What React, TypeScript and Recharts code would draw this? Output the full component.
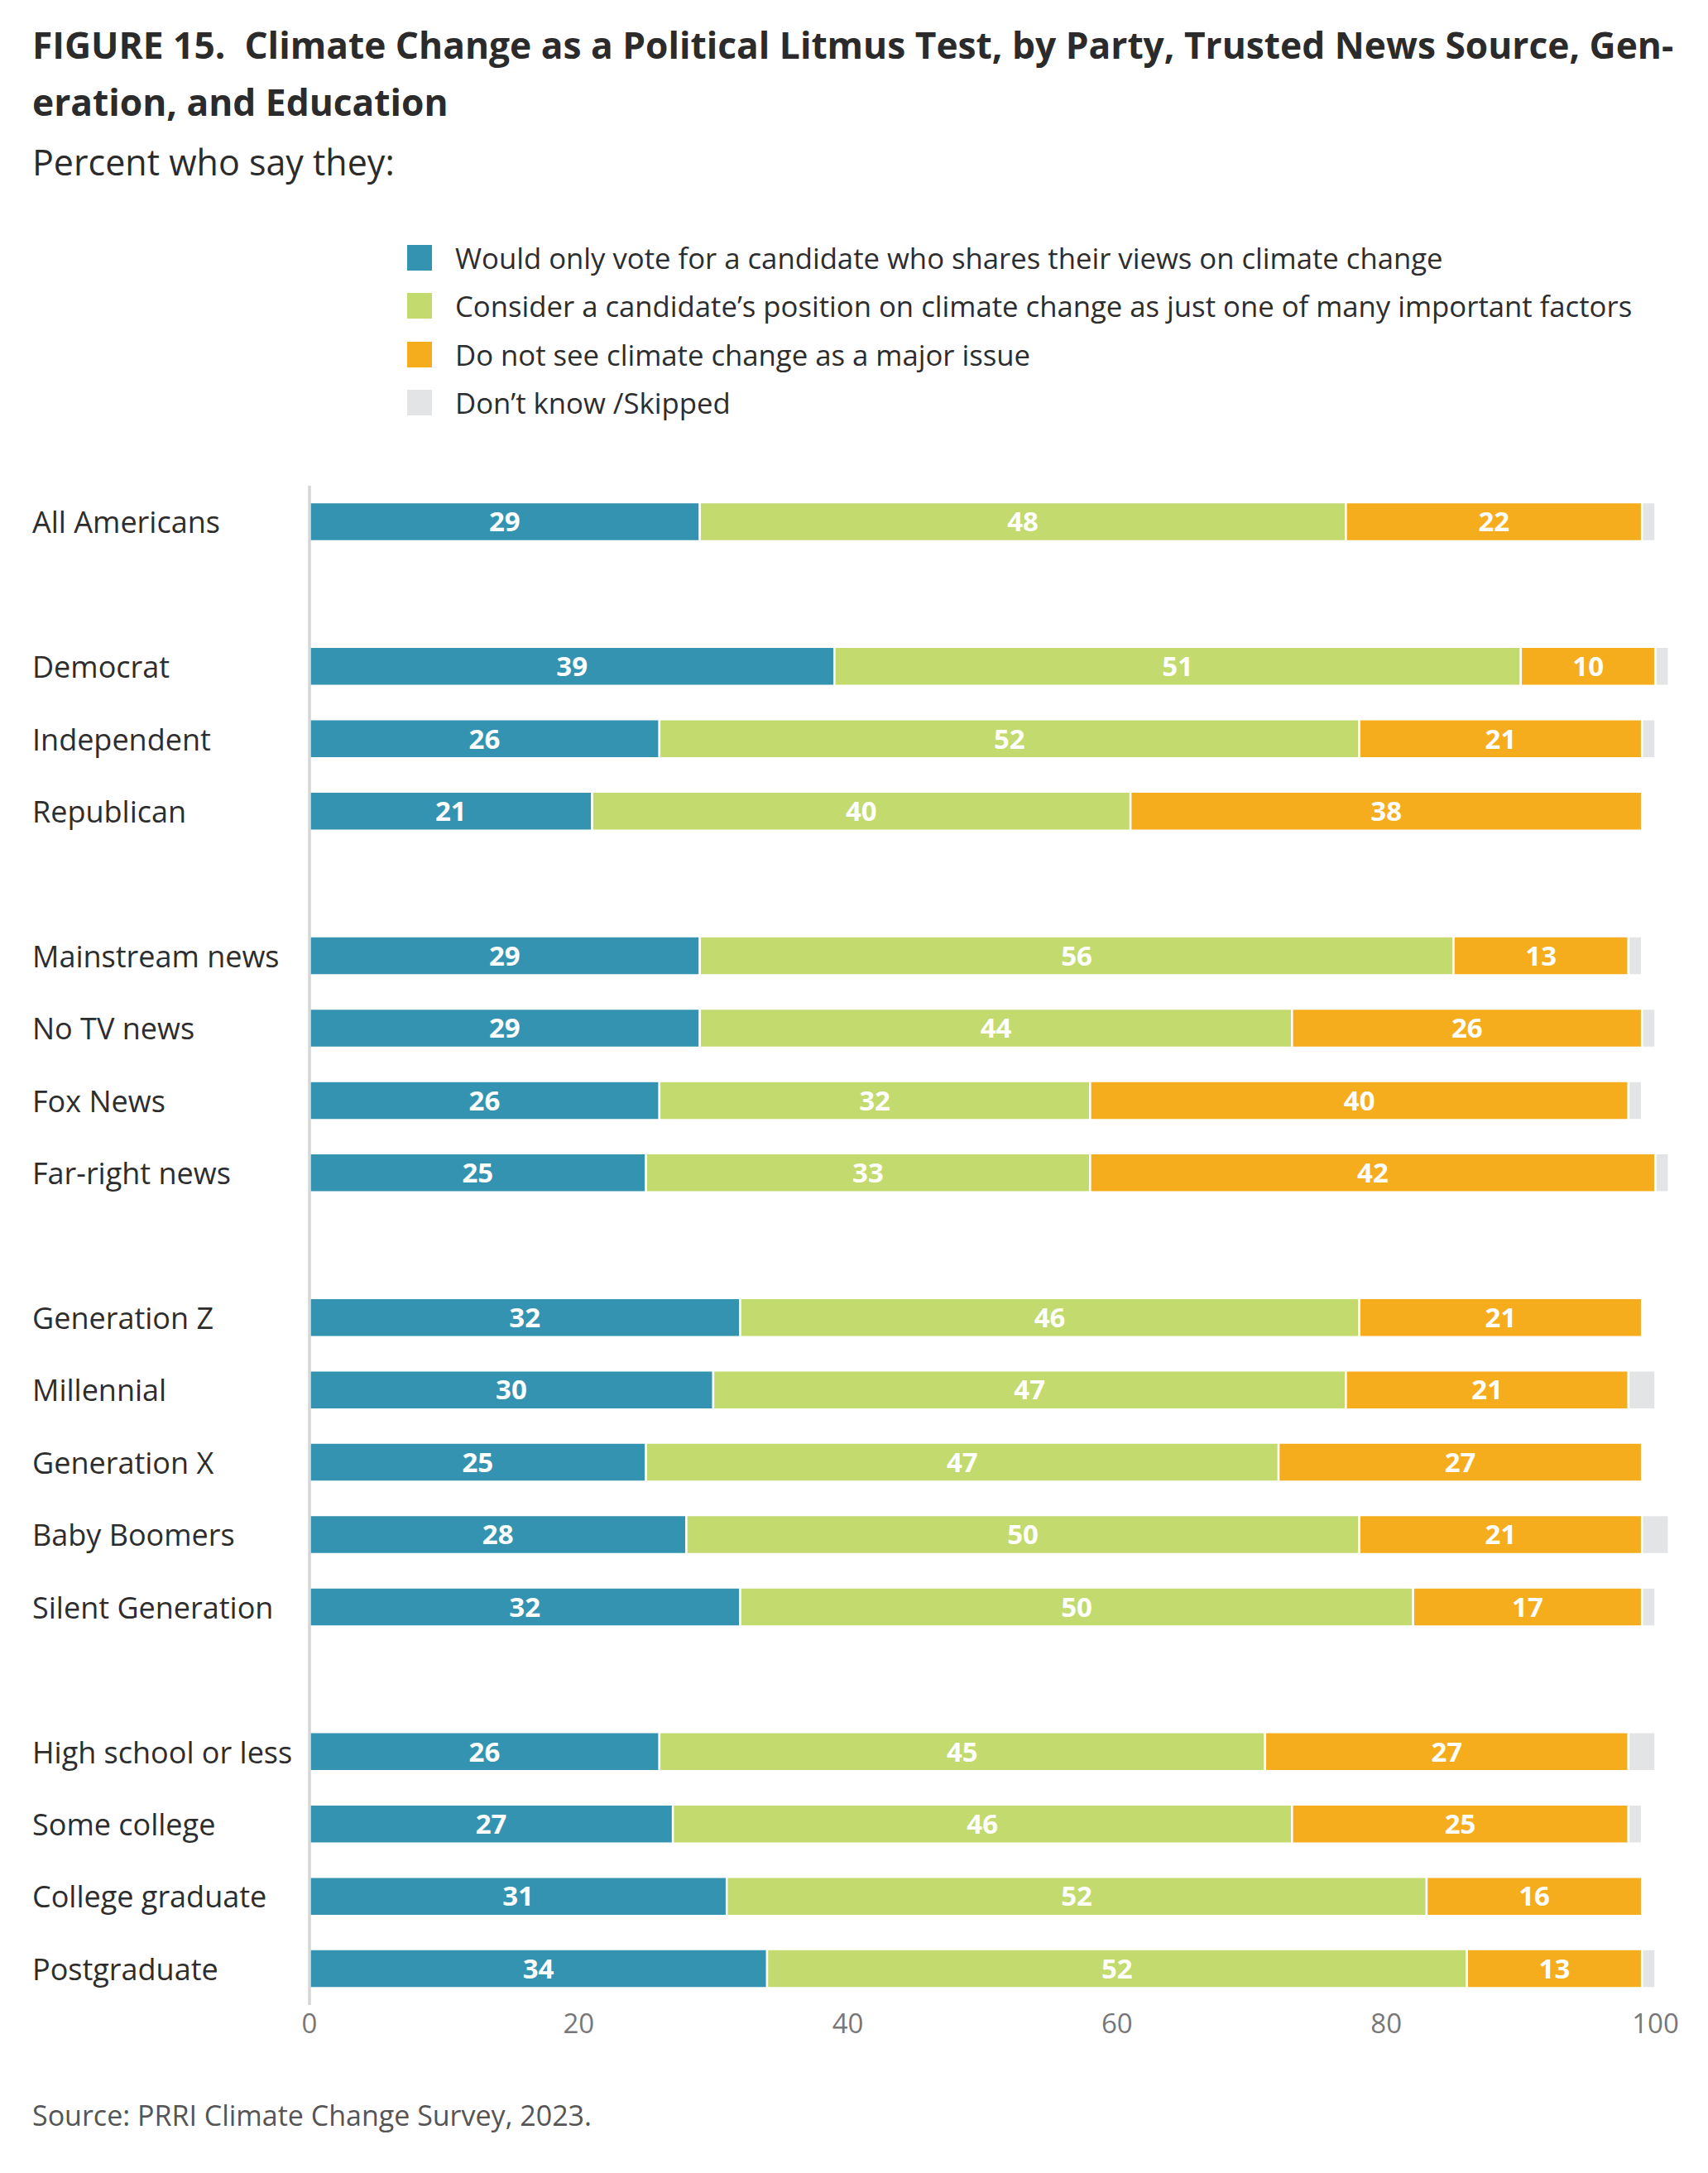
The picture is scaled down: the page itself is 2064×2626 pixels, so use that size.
import React from 'react';
import { BarChart, Bar, XAxis, YAxis, LabelList } from 'recharts';

const categories = [
  'All Americans',
  'Democrat', 'Independent', 'Republican',
  'Mainstream news', 'No TV news', 'Fox News', 'Far-right news',
  'Generation Z', 'Millennial', 'Generation X', 'Baby Boomers', 'Silent Generation',
  'High school or less', 'Some college', 'College graduate', 'Postgraduate',
];
// a blank row goes in front of these indexes
const groupStarts = [1, 4, 8, 13];

const onlyVote = [29, 39, 26, 21, 29, 29, 26, 25, 32, 30, 25, 28, 32, 26, 27, 31, 34];
const oneFactor = [48, 51, 52, 40, 56, 44, 32, 33, 46, 47, 47, 50, 50, 45, 46, 52, 52];
const notMajor = [22, 10, 21, 38, 13, 26, 40, 42, 21, 21, 27, 21, 17, 27, 25, 16, 13];
const dontKnow = [1, 1, 1, 0, 1, 1, 1, 1, 0, 2, 0, 2, 1, 2, 1, 0, 1];

const xTicks = [0, 20, 40, 60, 80, 100];

const seriesNames = [
  'Would only vote for a candidate who shares their views on climate change',
  'Consider a candidate\u2019s position on climate change as just one of many important factors',
  'Do not see climate change as a major issue',
  'Don\u2019t know /Skipped',
];
const COLORS = ['#3393b1', '#c2da6e', '#f6ad1d', '#e3e4e5'];

const FONT = '"Open Sans", "Noto Sans", sans-serif';

const rows: any[] = [];
categories.forEach((name, i) => {
  if (groupStarts.includes(i)) rows.push({ name: `gap${i}` });
  rows.push({
    name,
    only: onlyVote[i],
    factor: oneFactor[i],
    notMajor: notMajor[i],
    dk: dontKnow[i],
  });
});

const CategoryTick = ({ y, payload }: any) => {
  if (String(payload.value).startsWith('gap')) return <g />;
  return (
    <text x={39} y={y} textAnchor="start" dominantBaseline="central"
      fontSize={36} fill="#2d2d2d" fontFamily={FONT}>
      {payload.value}
    </text>
  );
};

const labelFmt = (v: any) => (v === undefined || v === null || v === 0 ? '' : v);

const App = () => {
  const labelStyle = { fill: '#fff', fontSize: 33, fontWeight: 700, fontFamily: FONT };
  return (
    <div style={{ position: 'absolute', left: 0, top: 0, width: 2064, height: 2626, background: '#fff', fontFamily: FONT }}>
      <div style={{ position: 'absolute', left: 39, top: 20, fontSize: 44.3, fontWeight: 700, lineHeight: '69px', color: '#2b2b2b', whiteSpace: 'nowrap' }}>
        <div>FIGURE 15.&nbsp; Climate Change as a Political Litmus Test, by Party, Trusted News Source, Gen-</div>
        <div>eration, and Education</div>
      </div>
      <div style={{ position: 'absolute', left: 39, top: 170, fontSize: 43, lineHeight: '52px', color: '#2b2b2b' }}>
        Percent who say they:
      </div>

      {seriesNames.map((s, i) => (
        <div key={s} style={{ position: 'absolute', left: 492, top: 291 + i * 58.4, height: 41, display: 'flex', alignItems: 'center' }}>
          <div style={{ width: 30, height: 31, background: COLORS[i], marginRight: 28 }} />
          <span style={{ fontSize: 34.7, color: '#2d2d2d', whiteSpace: 'nowrap' }}>{s}</span>
        </div>
      ))}

      <div style={{ position: 'absolute', left: 0, top: 557 }}>
        <BarChart width={2064} height={1909} data={rows} layout="vertical"
          margin={{ top: 30, right: 31, bottom: 0, left: 0 }} barSize={47}>
          <XAxis type="number" domain={[0, 102]} ticks={xTicks} axisLine={false} tickLine={false}
            height={43} tickMargin={5}
            tick={{ fill: '#777', fontSize: 33, fontFamily: FONT }} />
          <YAxis type="category" dataKey="name" width={374} tickLine={false}
            axisLine={{ stroke: '#d6d6d6', strokeWidth: 3.5 }} tick={<CategoryTick />} interval={0} />
          <Bar dataKey="only" stackId="a" fill={COLORS[0]} stroke="#fff" strokeWidth={2.5} isAnimationActive={false}>
            <LabelList dataKey="only" position="center" formatter={labelFmt} style={labelStyle} />
          </Bar>
          <Bar dataKey="factor" stackId="a" fill={COLORS[1]} stroke="#fff" strokeWidth={2.5} isAnimationActive={false}>
            <LabelList dataKey="factor" position="center" formatter={labelFmt} style={labelStyle} />
          </Bar>
          <Bar dataKey="notMajor" stackId="a" fill={COLORS[2]} stroke="#fff" strokeWidth={2.5} isAnimationActive={false}>
            <LabelList dataKey="notMajor" position="center" formatter={labelFmt} style={labelStyle} />
          </Bar>
          <Bar dataKey="dk" stackId="a" fill={COLORS[3]} stroke="#fff" strokeWidth={2.5} isAnimationActive={false} />
        </BarChart>
      </div>

      <div style={{ position: 'absolute', left: 39, top: 2536, fontSize: 34, lineHeight: '40px', color: '#555' }}>
        Source: PRRI Climate Change Survey, 2023.
      </div>
    </div>
  );
};

export default App;
